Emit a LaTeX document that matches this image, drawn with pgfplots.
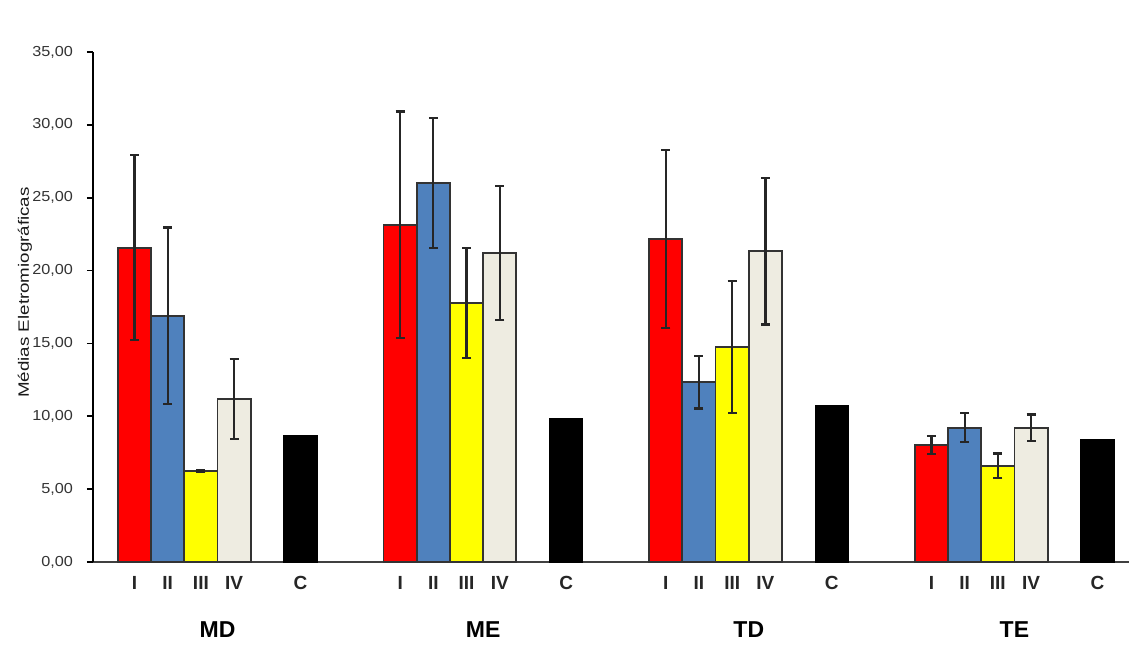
\documentclass[border=0pt]{standalone}
\usepackage{pgfplots}
\pgfplotsset{compat=1.18}
\usepackage{fontspec}
\setmainfont{Liberation Sans}
\definecolor{cI}{HTML}{FF0000}
\definecolor{cII}{HTML}{4F81BD}
\definecolor{cIII}{HTML}{FFFF00}
\definecolor{cIV}{HTML}{EEECE1}
\definecolor{cC}{HTML}{000000}
\pgfplotsset{
  mybar/.style={ybar, bar width=1, bar shift=0pt, draw=black!80, line width=1.8pt,
    error bars/y dir=both, error bars/y explicit,
    error bars/error bar style={line width=2.2pt, black!85},
    error bars/error mark options={rotate=90, mark size=4.5pt, line width=2.2pt, black!85}},
}
\begin{document}
\begin{tikzpicture}
\begin{axis}[
  at={(0pt,0pt)}, anchor=south west,
  scale only axis, width=1036pt, height=510pt,
  xmin=-1.25, xmax=29.95, ymin=0, ymax=35,
  axis x line*=bottom, axis y line*=left,
  x axis line style={-, black!75, line width=1.6pt},
  y axis line style={-, black, line width=2pt},
  clip=false,
  ytick={0,5,...,35},
  tick align=outside,
  major tick length=6pt,
  y tick style={black, line width=1.6pt},
  yticklabel style={font=\fontsize{14.5}{14.5}\selectfont, black!80, xscale=1.12, xshift=-9pt,
    /pgf/number format/.cd, fixed, fixed zerofill, precision=2, use comma, assume math mode=true},
  xtick={0,1,2,3,5,8,9,10,11,13,16,17,18,19,21,24,25,26,27,29},
  xticklabels={I,II,III,IV,\raisebox{-2pt}{C},I,II,III,IV,\raisebox{-2pt}{C},I,II,III,IV,\raisebox{-2pt}{C},I,II,III,IV,\raisebox{-2pt}{C}},
  x tick style={draw=none},
  xticklabel style={font=\bfseries\fontsize{19}{19}\selectfont, black!85, yshift=-5pt},
]
\addplot[fill=cI, mybar] coordinates {
  (0,21.57) +- (0,6.36)
  (8,23.13) +- (0,7.78)
  (16,22.17) +- (0,6.10)
  (24,8.03) +- (0,0.60)
};
\addplot[fill=cII, mybar] coordinates {
  (1,16.90) +- (0,6.05)
  (9,26.01) +- (0,4.48)
  (17,12.33) +- (0,1.79)
  (25,9.22) +- (0,1.00)
};
\addplot[fill=cIII, mybar] coordinates {
  (2,6.25) +- (0,0.08)
  (10,17.78) +- (0,3.78)
  (18,14.76) +- (0,4.54)
  (26,6.59) +- (0,0.85)
};
\addplot[fill=cIV, mybar] coordinates {
  (3,11.19) +- (0,2.75)
  (11,21.21) +- (0,4.61)
  (19,21.32) +- (0,5.02)
  (27,9.22) +- (0,0.90)
};
\addplot[ybar, bar width=1, bar shift=0pt, fill=cC, draw=black, line width=1pt] coordinates {
  (5,8.67) (13,9.86) (21,10.71) (29,8.42)
};
\node[rotate=90, font=\fontsize{15}{15}\selectfont, black!90] at (axis cs:-3.3,18.5) {\scalebox{1.25}[1]{Médias Eletromiográficas}};
\node[font=\bfseries\fontsize{23}{23}\selectfont] at (axis cs:2.5,-4.63) {MD};
\node[font=\bfseries\fontsize{23}{23}\selectfont] at (axis cs:10.5,-4.63) {ME};
\node[font=\bfseries\fontsize{23}{23}\selectfont] at (axis cs:18.5,-4.63) {TD};
\node[font=\bfseries\fontsize{23}{23}\selectfont] at (axis cs:26.5,-4.63) {TE};
\end{axis}
\pgfresetboundingbox
\path (-93pt,-102pt) rectangle (1036pt,562pt);
\end{tikzpicture}
\end{document}
